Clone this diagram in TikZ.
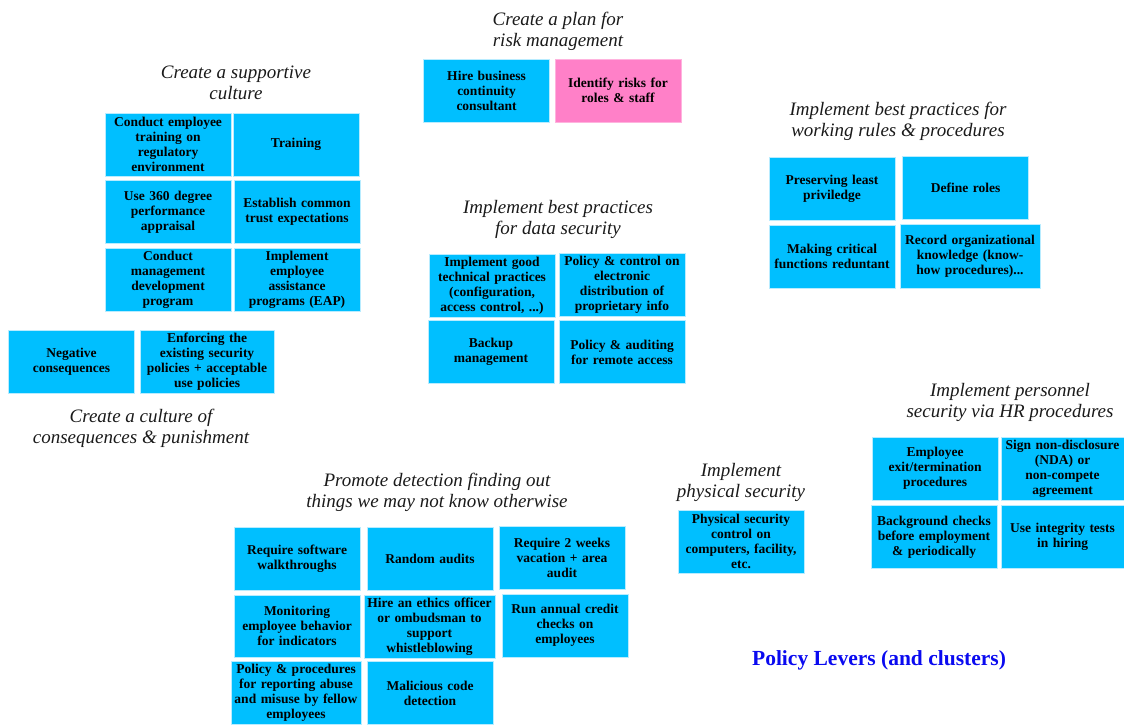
\documentclass[tikz,border=0pt]{standalone}
\usepackage{fontspec}
\setmainfont{Liberation Serif}
\usepackage{tikz}
\definecolor{LeverBlue}{HTML}{00BFFF}
\definecolor{LeverEdge}{HTML}{B8ECFF}
\definecolor{RiskPink}{HTML}{FF80C8}
\definecolor{TitleInk}{HTML}{1A1A1A}
\definecolor{LegendBlue}{HTML}{0A0AF0}
\tikzset{
  lever/.style={draw=LeverEdge,line width=0.6pt,fill=LeverBlue,inner xsep=1pt,inner ysep=0pt,
    minimum width=126pt,minimum height=63pt,text width=124pt,align=center,
    font=\fontsize{13.5}{15}\selectfont\bfseries},
  pinklever/.style={lever,fill=RiskPink,draw=RiskPink!60},
  cluster/.style={align=center,inner sep=0pt,text=TitleInk,font=\fontsize{19}{21}\selectfont\itshape},
  legend/.style={inner sep=0pt,text=LegendBlue,font=\fontsize{21.5}{24}\selectfont\bfseries}
}

\begin{document}
\begin{tikzpicture}[x=1pt,y=-1pt]
\useasboundingbox (0,0) rectangle (1124,724);

% supportive culture
\node[cluster] (tSupport) at (236,82.5) {Create a supportive\\culture};
\node[lever] (cet) at (168,144.5) {Conduct employee\\training on\\regulatory\\environment};
\node[lever] (trn) at (296,144.5) {Training};
\node[lever] (u360) at (168,212) {Use 360 degree\\performance\\appraisal};
\node[lever] (ect) at (297,212) {Establish common\\trust expectations};
\node[lever] (cmd) at (168,279.5) {Conduct\\management\\development\\program};
\node[lever] (eap) at (297,279.5) {Implement\\employee\\assistance\\programs (EAP)};

% risk management plan
\node[cluster] (tRisk) at (558,31) {Create a plan for\\risk management};
\node[lever,minimum width=125pt] (hbc) at (486.5,90.5) {Hire business\\continuity\\consultant};
\node[pinklever] (irr) at (618,90.5) {Identify risks for\\roles \& staff};

% consequences
\node[lever,minimum width=125pt] (neg) at (71.5,361.5) {Negative\\consequences};
\node[lever,minimum width=134pt,text width=132pt] (enf) at (207,361.5) {Enforcing the\\existing security\\policies + acceptable\\use policies};
\node[cluster] (tConseq) at (141,428) {Create a culture of\\consequences \& punishment};

% data security
\node[cluster] (tData) at (558,219.5) {Implement best practices\\for data security};
\node[lever] (gtp) at (492,285.5) {Implement good\\technical practices\\(configuration,\\access control, ...)};
\node[lever] (pce) at (622,285) {Policy \& control on\\electronic\\distribution of\\proprietary info};
\node[lever,minimum width=124pt] (bkm) at (491,352) {Backup\\management};
\node[lever] (par) at (622,352) {Policy \& auditing\\for remote access};

% working rules
\node[cluster] (tRules) at (898,121) {Implement best practices for\\working rules \& procedures};
\node[lever] (plp) at (832,189) {Preserving least\\priviledge};
\node[lever,minimum width=125pt] (dfr) at (965.5,188) {Define roles};
\node[lever] (mcf) at (832,256.5) {Making critical\\functions reduntant};
\node[lever,minimum width=140pt,minimum height=64pt,text width=138pt] (rok) at (970,256) {Record organizational\\knowledge (know-\\how procedures)...};

% physical security
\node[cluster] (tPhys) at (741,482) {Implement\\physical security};
\node[lever] (psc) at (741,541.5) {Physical security\\control on\\computers, facility,\\etc.};

% personnel security
\node[cluster] (tHR) at (1010,402) {Implement personnel\\security via HR procedures};
\node[lever] (etp) at (935,468.5) {Employee\\exit/termination\\procedures};
\node[lever,minimum width=123pt,text width=121pt] (nda) at (1062.5,468.5) {Sign non-disclosure\\(NDA) or\\non-compete\\agreement};
\node[lever] (bgc) at (934,537) {Background checks\\before employment\\\& periodically};
\node[lever,minimum width=123pt,text width=121pt] (uit) at (1062.5,536.5) {Use integrity tests\\in hiring};

% detection
\node[cluster] (tDetect) at (437,492.5) {Promote detection finding out\\things we may not know otherwise};
\node[lever] (rsw) at (297,558.5) {Require software\\walkthroughs};
\node[lever] (rau) at (430,558.5) {Random audits};
\node[lever] (r2w) at (562,557.5) {Require 2 weeks\\vacation + area\\audit};
\node[lever,minimum height=62pt] (meb) at (297,626) {Monitoring\\employee behavior\\for indicators};
\node[lever,minimum width=131pt,text width=129pt] (heo) at (429.5,627) {Hire an ethics officer\\or ombudsman to\\support\\whistleblowing};
\node[lever] (rac) at (565,625.5) {Run annual credit\\checks on\\employees};
\node[lever,minimum width=130pt,text width=128pt] (ppr) at (296,693) {Policy \& procedures\\for reporting abuse\\and misuse by fellow\\employees};
\node[lever] (mcd) at (430,693) {Malicious code\\detection};

\node[legend] (key) at (879,660) {Policy Levers (and clusters)};
\end{tikzpicture}
\end{document}
